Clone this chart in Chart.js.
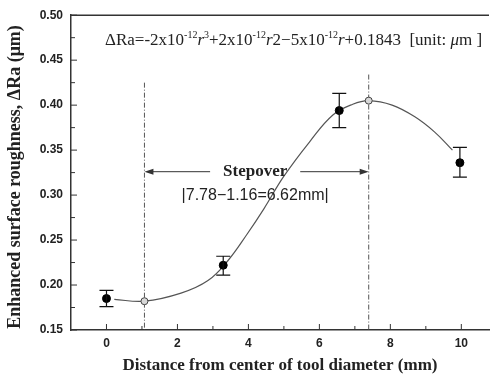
<!DOCTYPE html>
<html>
<head>
<meta charset="utf-8">
<script src="https://cdn.jsdelivr.net/npm/chart.js@4/dist/chart.umd.min.js"></script>
<style>
  body { margin: 0; background: #fff; overflow: hidden; }
  #wrap { width: 494px; height: 376px; }
</style>
</head>
<body>
<div id="wrap"><canvas id="roughChart" width="494" height="376"></canvas></div>
<script>
// measured values (mean + error bar ends)
const measX = [0, 3.29, 6.56, 9.96];
const measY = [0.185, 0.222, 0.394, 0.336];
const errLow = [0.176, 0.211, 0.375, 0.320];
const errHigh = [0.194, 0.232, 0.413, 0.353];

// fitted curve
const fitX = [0.22, 1.07, 2.1, 2.86, 3.42, 3.97, 4.44, 5.0, 5.72, 6.38, 6.94, 7.39, 8.05, 8.69, 9.25, 9.75];
const fitY = [0.184, 0.182, 0.191, 0.205, 0.227, 0.257, 0.285, 0.321, 0.359, 0.389, 0.401, 0.405, 0.400, 0.387, 0.370, 0.350];

// min / max of the fit (open markers) and the stepover guide lines
const extremeX = [1.07, 7.39];
const extremeY = [0.182, 0.405];
const guideTop = [0.425, 0.434];
const arrowY = 0.326;
const arrowInnerX = [2.92, 5.46];

const xTicks = [0, 2, 4, 6, 8, 10];
const yTicks = [0.15, 0.20, 0.25, 0.30, 0.35, 0.40, 0.45, 0.50];

const ink = '#222';
const serif = '"Liberation Serif", "Times New Roman", serif';
const sans = '"Liberation Sans", Arial, sans-serif';

// inward ticks, top frame line, error bars, stepover arrows and texts
const decoPlugin = {
  id: 'deco',
  afterDatasetsDraw(chart) {
    const ctx = chart.ctx;
    const xs = chart.scales.x, ys = chart.scales.y;
    const a = chart.chartArea;
    ctx.save();

    // top frame
    ctx.strokeStyle = '#333';
    ctx.lineWidth = 1.5;
    ctx.beginPath();
    ctx.moveTo(a.left, a.top);
    ctx.lineTo(a.right, a.top);
    ctx.stroke();

    // inward ticks
    ctx.lineWidth = 1;
    ctx.beginPath();
    for (let v = 0; v <= 10; v += 1) {
      const px = xs.getPixelForValue(v);
      const len = v % 2 === 0 ? 6 : 4;
      ctx.moveTo(px, a.bottom);
      ctx.lineTo(px, a.bottom - len);
    }
    for (let i = 0; i <= 14; i++) {
      const v = 0.15 + i * 0.025;
      const py = ys.getPixelForValue(v);
      const len = i % 2 === 0 ? 6 : 4;
      ctx.moveTo(a.left, py);
      ctx.lineTo(a.left + len, py);
    }
    ctx.stroke();

    // error bars
    ctx.strokeStyle = '#111';
    ctx.lineWidth = 1.2;
    ctx.beginPath();
    for (let i = 0; i < measX.length; i++) {
      const px = xs.getPixelForValue(measX[i]);
      const lo = ys.getPixelForValue(errLow[i]);
      const hi = ys.getPixelForValue(errHigh[i]);
      ctx.moveTo(px, lo); ctx.lineTo(px, hi);
      ctx.moveTo(px - 7, lo); ctx.lineTo(px + 7, lo);
      ctx.moveTo(px - 7, hi); ctx.lineTo(px + 7, hi);
    }
    ctx.stroke();

    // stepover arrows
    const ay = ys.getPixelForValue(arrowY);
    ctx.strokeStyle = '#333';
    ctx.fillStyle = '#333';
    ctx.lineWidth = 1;
    for (let k = 0; k < 2; k++) {
      const tip = xs.getPixelForValue(extremeX[k]);
      const tail = xs.getPixelForValue(arrowInnerX[k]);
      const dir = tip < tail ? 1 : -1;
      ctx.beginPath();
      ctx.moveTo(tail, ay); ctx.lineTo(tip + dir * 6, ay);
      ctx.stroke();
      ctx.beginPath();
      ctx.moveTo(tip, ay);
      ctx.lineTo(tip + dir * 9, ay - 3);
      ctx.lineTo(tip + dir * 9, ay + 3);
      ctx.closePath();
      ctx.fill();
    }

    // labels
    const midX = (xs.getPixelForValue(arrowInnerX[0]) + xs.getPixelForValue(arrowInnerX[1])) / 2;
    ctx.fillStyle = ink;
    ctx.textAlign = 'center';
    ctx.textBaseline = 'middle';
    ctx.font = 'bold 17px ' + serif;
    ctx.fillText('Stepover', midX, ay);
    ctx.font = '16px ' + sans;
    ctx.fillText('|7.78\u22121.16=6.62mm|', midX, ay + 24);

    // equation with superscripts
    const parts = [
      ['\u0394Ra=-2x10', 0], ['-12', 1], ['r', 2], ['3', 1],
      ['+2x10', 0], ['-12', 1], ['r', 2], ['2\u22125x10', 0], ['-12', 1],
      ['r', 2], ['+0.1843  [unit: ', 0], ['\u03bc', 2], ['m ]', 0]
    ];
    ctx.textAlign = 'left';
    ctx.textBaseline = 'alphabetic';
    let ex = 105;
    const ey = 45;
    for (const [t, kind] of parts) {
      if (kind === 1) ctx.font = '10px ' + serif;
      else if (kind === 2) ctx.font = 'italic 17px ' + serif;
      else ctx.font = '17px ' + serif;
      ctx.fillText(t, ex, kind === 1 ? ey - 7 : ey);
      ex += ctx.measureText(t).width;
    }

    // y axis title
    ctx.save();
    ctx.translate(15, 177);
    ctx.rotate(-Math.PI / 2);
    ctx.textAlign = 'center';
    ctx.textBaseline = 'middle';
    ctx.font = 'bold 18px ' + serif;
    ctx.fillText('Enhanced surface roughness, \u0394Ra (\u03bcm)', 0, 0);
    ctx.restore();

    ctx.restore();
  }
};

const ctx = document.getElementById('roughChart').getContext('2d');
const roughChart = new Chart(ctx, {
  type: 'scatter',
  data: {
    datasets: [
      {
        label: 'fit',
        data: fitX.map((x, i) => ({ x: x, y: fitY[i] })),
        showLine: true,
        borderColor: '#555',
        borderWidth: 1.2,
        pointRadius: 0,
        tension: 0.4,
        order: 3
      },
      {
        label: 'guide left',
        data: [{ x: extremeX[0], y: guideTop[0] }, { x: extremeX[0], y: 0.15 }],
        showLine: true,
        borderColor: '#555',
        borderWidth: 1,
        borderDash: [5, 2, 1, 2],
        pointRadius: 0,
        order: 4
      },
      {
        label: 'guide right',
        data: [{ x: extremeX[1], y: guideTop[1] }, { x: extremeX[1], y: 0.15 }],
        showLine: true,
        borderColor: '#555',
        borderWidth: 1,
        borderDash: [5, 2, 1, 2],
        pointRadius: 0,
        order: 4
      },
      {
        label: 'extremes',
        data: extremeX.map((x, i) => ({ x: x, y: extremeY[i] })),
        pointRadius: 3.5,
        backgroundColor: '#d8d8d8',
        borderColor: '#444',
        borderWidth: 1,
        order: 2
      },
      {
        label: 'measured',
        data: measX.map((x, i) => ({ x: x, y: measY[i] })),
        pointRadius: 4,
        backgroundColor: '#000',
        borderColor: '#000',
        order: 1
      }
    ]
  },
  options: {
    responsive: false,
    animation: false,
    layout: { padding: { top: 12, right: 0, left: 0, bottom: 0 } },
    plugins: {
      legend: { display: false },
      tooltip: { enabled: false }
    },
    scales: {
      x: {
        type: 'linear',
        min: -1,
        max: 10.78,
        afterBuildTicks: s => { s.ticks = xTicks.map(v => ({ value: v })); },
        afterFit: s => { s.height = 46; },
        grid: { display: false, drawTicks: false },
        border: { display: true, color: '#333', width: 1.5 },
        ticks: {
          color: ink,
          padding: 6,
          maxRotation: 0,
          font: { family: sans, size: 12, weight: 'bold' }
        },
        title: {
          display: true,
          text: 'Distance from center of tool diameter (mm)',
          color: ink,
          padding: { top: 1, bottom: 0 },
          font: { family: serif, size: 17, weight: 'bold' }
        }
      },
      y: {
        type: 'linear',
        min: 0.15,
        max: 0.50,
        afterBuildTicks: s => { s.ticks = yTicks.map(v => ({ value: v })); },
        afterFit: s => { s.width = 71; },
        grid: { display: false, drawTicks: false },
        border: { display: true, color: '#333', width: 1.5 },
        ticks: {
          color: ink,
          padding: 8,
          callback: v => v.toFixed(2),
          font: { family: sans, size: 12, weight: 'bold' }
        }
      }
    }
  },
  plugins: [decoPlugin]
});
</script>
</body>
</html>
